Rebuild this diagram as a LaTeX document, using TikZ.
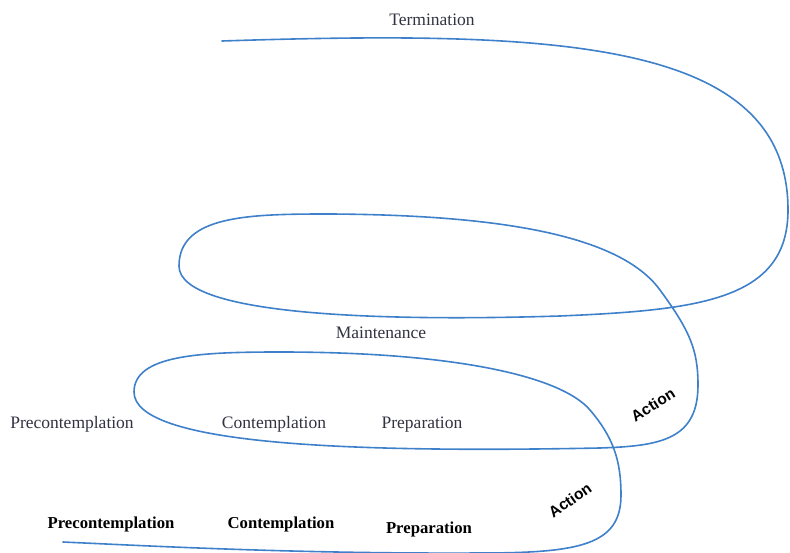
\documentclass[tikz,border=0pt]{standalone}
\usepackage{fontspec}
\setmainfont{Liberation Serif}
\newfontfamily\actfont{Liberation Sans}
\definecolor{spiral}{RGB}{62,128,202}
\definecolor{lab}{RGB}{50,50,66}
\begin{document}
\begin{tikzpicture}[x=1pt,y=-1pt,
  spiralline/.style={draw=spiral,line width=1.6pt,line cap=round,line join=round},
  uplab/.style={anchor=base,inner sep=0pt,text=lab,font=\fontsize{17.5}{20}\selectfont},
  lowlab/.style={anchor=base,inner sep=0pt,text=black,font=\fontsize{16.7}{20}\selectfont\bfseries},
  actlab/.style={inner sep=0pt,text=black,font=\actfont\fontsize{15.5}{18}\selectfont\bfseries}]
\useasboundingbox (0,0) rectangle (790,553);
\draw[spiralline]
 (222,41) .. controls (560,30) and (788,40) .. (788,210)
 .. controls (788,300) and (700,310) .. (560,316)
 .. controls (400,321) and (179,318) .. (179,266)
 .. controls (179,215) and (250,214) .. (330,214)
 .. controls (500,215) and (620,235) .. (660,290)
 .. controls (690,331) and (698,350) .. (698,385)
 .. controls (698,440) and (660,446) .. (600,448)
 .. controls (350,453) and (134,445) .. (134,392)
 .. controls (134,355) and (200,352) .. (280,352)
 .. controls (450,352) and (560,375) .. (590,410)
 .. controls (613,437) and (621,460) .. (621,495)
 .. controls (621,545) and (580,553) .. (480,553)
 .. controls (300,554) and (150,546) .. (63,542);
\node[uplab] (term) at (432,26) {Termination};
\node[uplab] (maint) at (381,339) {Maintenance};
\node[uplab] (pre1) at (72,428) {Precontemplation};
\node[uplab] (con1) at (274,428) {Contemplation};
\node[uplab] (prep1) at (422,428) {Preparation};
\node[actlab,rotate=32] (act1) at (653,405) {Action};
\node[lowlab] (pre2) at (111,528) {Precontemplation};
\node[lowlab] (con2) at (281,528) {Contemplation};
\node[lowlab] (prep2) at (429,533) {Preparation};
\node[actlab,rotate=35] (act2) at (570,500) {Action};
\end{tikzpicture}
\end{document}
